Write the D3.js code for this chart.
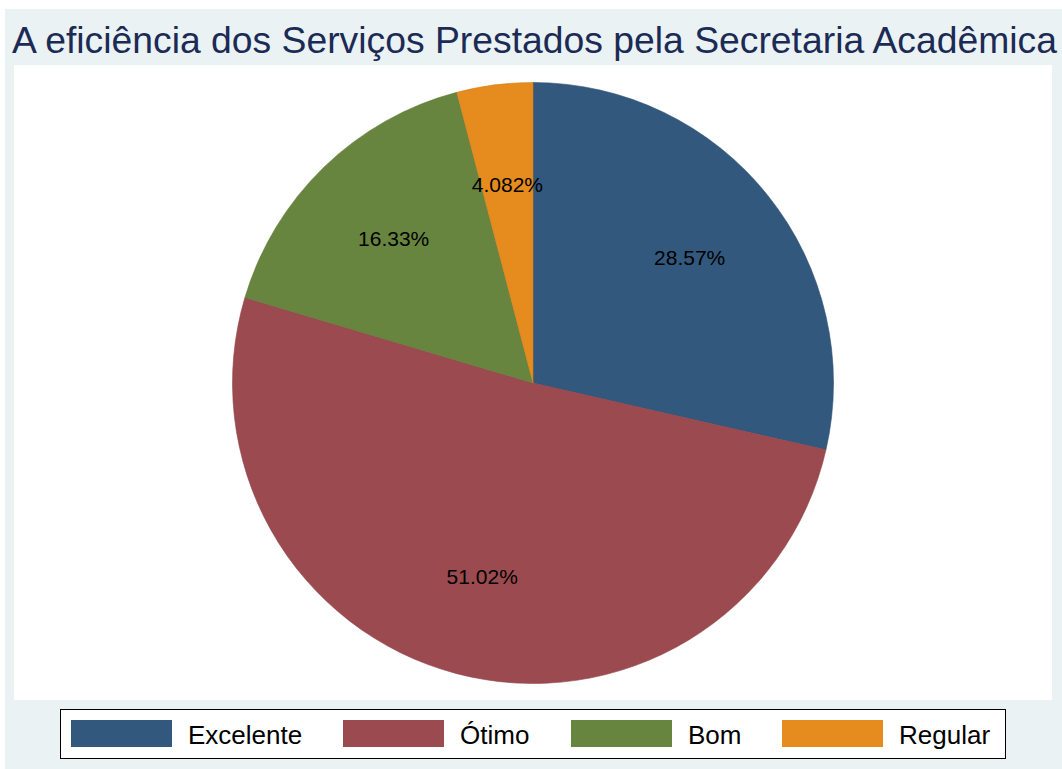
<!DOCTYPE html>
<html>
<head>
<meta charset="utf-8">
<script src="https://cdn.jsdelivr.net/npm/d3@7"></script>
<style>
  body { margin: 0; background: #fff; }
  text { font-family: "Liberation Sans", Arial, sans-serif; }
</style>
</head>
<body>
<script>
var title = 'A eficiência dos Serviços Prestados pela Secretaria Acadêmica';
var categories = ['Excelente', 'Ótimo', 'Bom', 'Regular'];
var counts = [14, 25, 8, 2];
var labels = ['28.57%', '51.02%', '16.33%', '4.082%'];
var colors = ['#33587d', '#9b4a4f', '#68853f', '#e68b1d'];

var W = 1062, H = 769;
var cx = 533, cy = 383, r = 300.5;

var svg = d3.select('body').append('svg')
  .attr('width', W)
  .attr('height', H);

// graph region
svg.append('rect')
  .attr('x', 5).attr('y', 9)
  .attr('width', W - 5).attr('height', H - 9)
  .attr('fill', '#eaf2f3');

// plot region
svg.append('rect')
  .attr('x', 14).attr('y', 65)
  .attr('width', 1038).attr('height', 635)
  .attr('fill', '#ffffff');

svg.append('text')
  .attr('x', 12).attr('y', 53)
  .attr('font-size', 36)
  .attr('textLength', 1045)
  .attr('lengthAdjust', 'spacingAndGlyphs')
  .attr('fill', '#1c2a56')
  .text(title);

var pie = d3.pie().sort(null).value(function(d) { return d; });
var arcs = pie(counts);

var arc = d3.arc().innerRadius(0).outerRadius(r);
var labelArc = d3.arc().innerRadius(r * 2 / 3).outerRadius(r * 2 / 3);

var g = svg.append('g')
  .attr('transform', 'translate(' + cx + ',' + cy + ')');

g.selectAll('path')
  .data(arcs)
  .enter().append('path')
  .attr('d', arc)
  .attr('fill', function(d, i) { return colors[i]; })
  .attr('stroke', function(d, i) { return d3.color(colors[i]).darker(0.2); })
  .attr('stroke-width', 0.6);

g.selectAll('text.lbl')
  .data(arcs)
  .enter().append('text')
  .attr('class', 'lbl')
  .attr('transform', function(d) { return 'translate(' + labelArc.centroid(d) + ')'; })
  .attr('text-anchor', 'middle')
  .attr('dy', '0.35em')
  .attr('font-size', 21)
  .attr('fill', '#000')
  .text(function(d, i) { return labels[i]; });

// legend
var legend = svg.append('g');
legend.append('rect')
  .attr('x', 60.5).attr('y', 709.5)
  .attr('width', 945).attr('height', 49)
  .attr('fill', '#fff')
  .attr('stroke', '#000')
  .attr('stroke-width', 1);

var legendX = d3.scaleOrdinal()
  .domain(categories)
  .range([71, 343, 571, 782]);

var items = legend.selectAll('g.item')
  .data(categories)
  .enter().append('g')
  .attr('class', 'item')
  .attr('transform', function(d) { return 'translate(' + legendX(d) + ',720)'; });

items.append('rect')
  .attr('width', 101).attr('height', 27)
  .attr('fill', function(d, i) { return colors[i]; });

items.append('text')
  .attr('x', 117).attr('y', 24)
  .attr('font-size', 26)
  .attr('fill', '#000')
  .text(function(d) { return d; });
</script>
</body>
</html>
